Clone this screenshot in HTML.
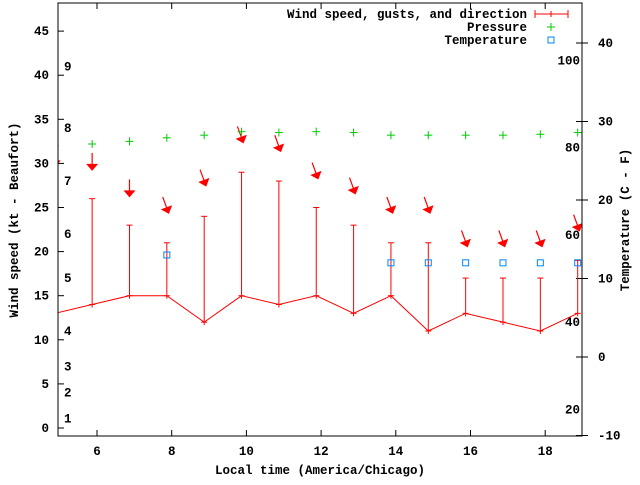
<!DOCTYPE html>
<html><head><meta charset="utf-8"><style>
body{margin:0;background:#fff}
svg text{font-family:"Liberation Mono",monospace;font-weight:bold;font-size:12.5px;fill:#000}
</style></head><body>
<svg width="640" height="480" viewBox="0 0 640 480" xmlns="http://www.w3.org/2000/svg" id="chart">
<rect x="0" y="0" width="640" height="480" fill="#fff"/>
<defs><clipPath id="clip"><rect x="58" y="3" width="524" height="433"/></clipPath></defs>
<g id="axes"></g>
<g id="plot" clip-path="url(#clip)"></g>
<rect x="58" y="3" width="524" height="433" fill="none" stroke="#000" stroke-width="1"/>
<text x="320" y="474" text-anchor="middle">Local time (America/Chicago)</text>
<text transform="translate(18,220) rotate(-90)" text-anchor="middle">Wind speed (kt - Beaufort)</text>
<text transform="translate(629,220) rotate(-90)" text-anchor="middle">Temperature (C - F)</text>
<g>
<text x="527" y="18" text-anchor="end">Wind speed, gusts, and direction</text>
<g stroke="#f00" stroke-width="1"><line x1="535" y1="14" x2="568" y2="14"/><line x1="535" y1="10" x2="535" y2="18"/><line x1="568" y1="10" x2="568" y2="18"/><line x1="551" y1="11" x2="551" y2="17"/></g>
<text x="527" y="31" text-anchor="end">Pressure</text>
<g stroke="#0c0" stroke-width="1"><line x1="547" y1="27" x2="555" y2="27"/><line x1="551" y1="23" x2="551" y2="31"/></g>
<text x="527" y="44" text-anchor="end">Temperature</text>
<rect x="548" y="37" width="6" height="6" fill="none" stroke="#08f" stroke-width="1"/>
</g>
</svg>
<script>
const times=[4.87,5.87,6.87,7.87,8.87,9.87,10.87,11.87,12.87,13.87,14.87,15.87,16.87,17.87,18.87];
const speeds=[13,14,15,15,12,15,14,15,13,15,11,13,12,11,13];
const gusts=[13,26,23,21,24,29,28,25,23,21,21,17,17,17,19];
const arrowPos=[30,29.6,26.6,24.7,27.8,32.7,31.7,28.6,26.9,24.7,24.7,20.9,20.9,20.9,22.7];
const windDir=[360,360,360,340,340,340,340,340,340,340,340,340,340,340,340];
const pressure=[32,32.2,32.5,32.9,33.2,33.6,33.5,33.6,33.5,33.2,33.2,33.2,33.2,33.3,33.5];
const tempTimes=[7.87,13.87,14.87,15.87,16.87,17.87,18.87];
const temps=[13,12,12,12,12,12,12];
const xTicks=[6,8,10,12,14,16,18];
const yTicks=[0,5,10,15,20,25,30,35,40,45];
const y2Ticks=[-10,0,10,20,30,40];
const beaufort=[[1,1.1],[2,4],[3,7],[4,11],[5,17],[6,22],[7,28],[8,34],[9,41]];
const fLabels=[20,40,60,80,100];

const NS='http://www.w3.org/2000/svg';
const X=v=>97+(v-6)*37.35;
const Y=v=>428-v*8.82;
const Y2=v=>357-v*7.85;
const axes=document.getElementById('axes'), plot=document.getElementById('plot');
function mk(tag,attrs,parent){const e=document.createElementNS(NS,tag);for(const k in attrs)e.setAttribute(k,attrs[k]);parent.appendChild(e);return e;}

xTicks.forEach(t=>{const x=X(t);
mk('line',{x1:x,y1:436,x2:x,y2:430,stroke:'#000'},axes);mk('line',{x1:x,y1:3,x2:x,y2:9,stroke:'#000'},axes);
const e=mk('text',{x:x,y:455,'text-anchor':'middle'},axes);e.textContent=t;

});
yTicks.forEach(t=>{const y=Y(t);
mk('line',{x1:58,y1:y,x2:64,y2:y,stroke:'#000'},axes);
const e=mk('text',{x:49,y:y+4,'text-anchor':'end'},axes);e.textContent=t;

});
y2Ticks.forEach(t=>{const y=Y2(t);
mk('line',{x1:576,y1:y,x2:588,y2:y,stroke:'#000'},axes);
const e=mk('text',{x:598,y:y+4},axes);e.textContent=t;

});
beaufort.forEach(b=>{const e=mk('text',{x:64,y:Y(b[1])+4},axes);e.textContent=b[0];

});
fLabels.forEach(f=>{const e=mk('text',{x:580,y:Y2((f-32)/1.8)+4,'text-anchor':'end'},axes);e.textContent=f;

});

// wind speed line
const pl=mk('polyline',{points:times.map((t,i)=>X(t)+','+Y(speeds[i])).join(' '),fill:'none',stroke:'#f00','stroke-width':1},plot);


times.forEach((t,i)=>{const x=X(t),y1=Y(speeds[i]),y2=Y(gusts[i]);
const g=mk('g',{stroke:'#f00','stroke-width':1},plot);


mk('line',{x1:x,y1:y1+3,x2:x,y2:y2},g);
mk('line',{x1:x-3,y1:y2,x2:x+3,y2:y2},g);
mk('line',{x1:x-3,y1:y1,x2:x+3,y2:y1},g);
// arrow
const a=(windDir[i]+180)*Math.PI/180;const dx=Math.sin(a),dy=-Math.cos(a);
const cx=x+dx*2,cy=Y(arrowPos[i]);
const ar=mk('g',{},plot);


mk('line',{x1:cx-dx*14,y1:cy-dy*14,x2:cx,y2:cy,stroke:'#f00','stroke-width':1.2},ar);
const px=-dy,py=dx;
mk('polygon',{points:`${cx+dx*4},${cy+dy*4} ${cx-dx*3+px*6},${cy-dy*3+py*6} ${cx-dx*3-px*6},${cy-dy*3-py*6}`,fill:'#f00'},ar);
// pressure
const p=mk('g',{stroke:'#0c0','stroke-width':1},plot);


const py2=Y(pressure[i]);
mk('line',{x1:x-4,y1:py2,x2:x+4,y2:py2},p);mk('line',{x1:x,y1:py2-4,x2:x,y2:py2+4},p);
});
tempTimes.forEach((t,i)=>{const r=mk('rect',{x:X(t)-3,y:Y2(temps[i])-3,width:6,height:6,fill:'none',stroke:'#08f','stroke-width':1},plot);

});
</script>
</body></html>
